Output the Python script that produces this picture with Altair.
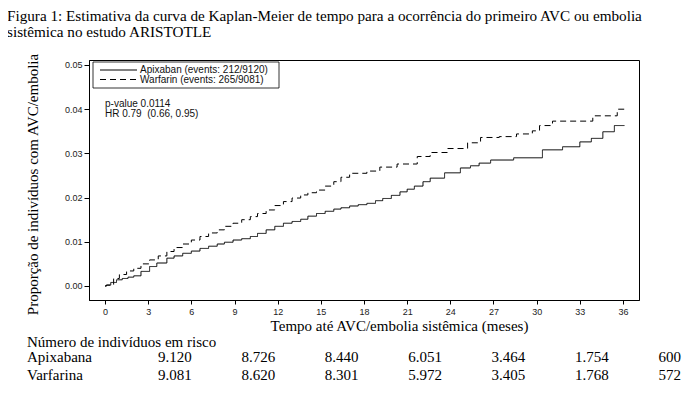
import altair as alt
import pandas as pd

# ---- Kaplan-Meier curves (months, cumulative proportion)
apix_t = [0, 0.1, 0.4, 0.8, 1.2, 1.6, 2.0, 2.5, 3.1, 3.6,
          4.3, 4.8, 5.4, 6.0, 6.6, 7.2, 7.8, 8.3, 8.9, 9.5,
          10.1, 10.6, 11.2, 11.8, 12.4, 13.0, 13.6, 14.1, 14.7, 15.3,
          15.9, 16.4, 17.0, 17.6, 18.2, 18.8, 19.3, 19.9, 20.5, 21.0,
          21.5, 22.1, 22.6, 23.6, 24.7, 25.4, 26.0, 26.8, 28.4, 30.4,
          31.8, 33.0, 33.8, 34.6, 35.4, 36.1]
apix_v = [0, 0.0002, 0.0008, 0.0014, 0.0017, 0.0020, 0.0023, 0.0033, 0.0044, 0.0052,
          0.0063, 0.0068, 0.0074, 0.0079, 0.0085, 0.0090, 0.0095, 0.0099, 0.0104, 0.0107,
          0.0112, 0.0119, 0.0127, 0.0135, 0.0142, 0.0146, 0.0151, 0.0158, 0.0164, 0.0169,
          0.0174, 0.0177, 0.0181, 0.0184, 0.0187, 0.0193, 0.0198, 0.0205, 0.0213, 0.0219,
          0.0226, 0.0236, 0.0244, 0.0256, 0.0267, 0.0272, 0.0278, 0.0285, 0.0290, 0.0308,
          0.0315, 0.0326, 0.0334, 0.0349, 0.0363, 0.0363]

warf_t = [0, 0.1, 0.6, 1.0, 1.5, 2.0, 2.5, 3.1, 3.7, 4.3, 4.8,
          5.4, 6.0, 6.6, 7.2, 7.8, 8.3, 8.9, 9.5, 10.1, 10.6,
          11.2, 11.8, 12.4, 13.0, 13.6, 14.1, 14.7, 15.3, 15.9, 16.4,
          17.0, 18.2, 19.1, 20.3, 21.7, 22.6, 23.8, 25.2, 26.1, 27.4,
          28.6, 29.7, 30.2, 31.1, 33.9, 35.6, 36.1]
warf_v = [0, 0.0002, 0.0017, 0.0026, 0.0034, 0.0040, 0.0050, 0.0059, 0.0068, 0.0078, 0.0087,
          0.0095, 0.0104, 0.0112, 0.0120, 0.0127, 0.0135, 0.0142, 0.0150, 0.0157, 0.0164,
          0.0172, 0.0182, 0.0191, 0.0199, 0.0206, 0.0211, 0.0217, 0.0226, 0.0236, 0.0246,
          0.0255, 0.0260, 0.0269, 0.0276, 0.0293, 0.0302, 0.0311, 0.0324, 0.0336, 0.0338,
          0.0344, 0.0351, 0.0363, 0.0373, 0.0385, 0.0400, 0.0400]

series_names = ["Apixaban", "Warfarin"]
legend_labels = ["Apixaban (events: 212/9120)", "Warfarin (events: 265/9081)"]
stats_lines = ["p-value 0.0114", "HR 0.79\u00a0\u00a0(0.66, 0.95)"]

x_ticks = [0, 3, 6, 9, 12, 15, 18, 21, 24, 27, 30, 33, 36]
y_ticks = [0.00, 0.01, 0.02, 0.03, 0.04, 0.05]

# ---- number at risk table
risk_header = "Número de indivíduos em risco"
risk_rows = ["Apixabana", "Varfarina"]
risk_months = [0, 6, 12, 18, 24, 30, 36]
risk_apix = ["9.120", "8.726", "8.440", "6.051", "3.464", "1.754", "600"]
risk_warf = ["9.081", "8.620", "8.301", "5.972", "3.405", "1.768", "572"]

title_lines = [
    "Figura 1: Estimativa da curva de Kaplan-Meier de tempo para a ocorrência do primeiro AVC ou embolia",
    "sistêmica no estudo ARISTOTLE",
]
x_title = "Tempo até AVC/embolia sistêmica (meses)"
y_title = "Proporção de indivíduos com AVC/embolia"

SERIF = "Liberation Serif"
SANS = "Liberation Sans"

df = pd.concat([
    pd.DataFrame({"month": apix_t, "value": apix_v, "series": series_names[0]}),
    pd.DataFrame({"month": warf_t, "value": warf_v, "series": series_names[1]}),
], ignore_index=True)

dash_scale = alt.Scale(domain=series_names, range=[[1, 0], [6, 4]])

lines = alt.Chart(df).mark_line(interpolate="step-after", color="black", strokeWidth=1).encode(
    x=alt.X("month:Q",
            scale=alt.Scale(domain=[-1.112, 37.112], nice=False, zero=False),
            axis=alt.Axis(values=x_ticks, format="d", title=x_title,
                          titleX=310, titleY=25, titleBaseline="middle",
                          tickSize=4, labelPadding=3)),
    y=alt.Y("value:Q",
            scale=alt.Scale(domain=[-0.00317, 0.05113], nice=False, zero=False),
            axis=alt.Axis(values=y_ticks, format=".2f", title=y_title,
                          titleX=-57, titleY=124, titleBaseline="middle",
                          tickSize=5, labelPadding=2)),
    strokeDash=alt.StrokeDash("series:N", scale=dash_scale, legend=None),
)

one = pd.DataFrame({"k": [0]})

legend_box = alt.Chart(one).mark_rect(fill="white", stroke="black", strokeWidth=0.8).encode(
    x=alt.value(4), x2=alt.value(190), y=alt.value(2), y2=alt.value(28)
)

layers = [lines, legend_box]
row_y = [10, 19.5]
dashes = [[1, 0], [6, 4]]
for i in range(2):
    layers.append(alt.Chart(one).mark_rule(color="black", strokeWidth=1, strokeDash=dashes[i]).encode(
        x=alt.value(11), x2=alt.value(48), y=alt.value(row_y[i])))
    layers.append(alt.Chart(one).mark_text(align="left", baseline="middle", font=SANS,
                                            fontSize=10, color="#111").encode(
        x=alt.value(51), y=alt.value(row_y[i]), text=alt.value(legend_labels[i])))

stat_y = [44, 53.5]
for i in range(2):
    layers.append(alt.Chart(one).mark_text(align="left", baseline="middle", font=SANS,
                                            fontSize=10, color="#111").encode(
        x=alt.value(16), y=alt.value(stat_y[i]), text=alt.value(stats_lines[i])))

# title (two lines)
title_y = [-39, -23]
for i in range(2):
    layers.append(alt.Chart(one).mark_text(align="left", baseline="alphabetic", font=SERIF,
                                            fontSize=15.2, color="black").encode(
        x=alt.value(-82), y=alt.value(title_y[i]), text=alt.value(title_lines[i])))

# risk table
FS = 15
layers.append(alt.Chart(one).mark_text(align="left", baseline="middle", font=SERIF,
                                        fontSize=FS, color="black").encode(
    x=alt.value(-62), y=alt.value(282), text=alt.value(risk_header)))
risk_y = [297, 315]
risk_vals = [risk_apix, risk_warf]
for i in range(2):
    layers.append(alt.Chart(one).mark_text(align="left", baseline="middle", font=SERIF,
                                            fontSize=FS, color="black").encode(
        x=alt.value(-62), y=alt.value(risk_y[i]), text=alt.value(risk_rows[i])))
    rdf = pd.DataFrame({"month": risk_months, "n": risk_vals[i]})
    layers.append(alt.Chart(rdf).mark_text(align="left", baseline="middle", font=SERIF,
                                            fontSize=FS, color="black").encode(
        x=alt.X("month:Q", scale=alt.Scale(domain=[0, 30], range=[69, 486]), axis=None),
        y=alt.value(risk_y[i]),
        text="n:N"))

chart = alt.layer(*layers).resolve_scale(x="independent").properties(
    width=550, height=240,
    autosize=alt.AutoSizeParams(type="none"),
    padding={"left": 81, "top": 52, "right": 51, "bottom": 87},
).configure_view(stroke="black", strokeWidth=1).configure_axis(
    grid=False, domainColor="black", tickColor="black",
    labelColor="#222", labelFont=SANS, labelFontSize=9,
    titleFont=SERIF, titleFontSize=15, titleFontWeight="normal", titleColor="black",
)

chart.save("out.html", embed_options={"renderer": "svg", "actions": False})
